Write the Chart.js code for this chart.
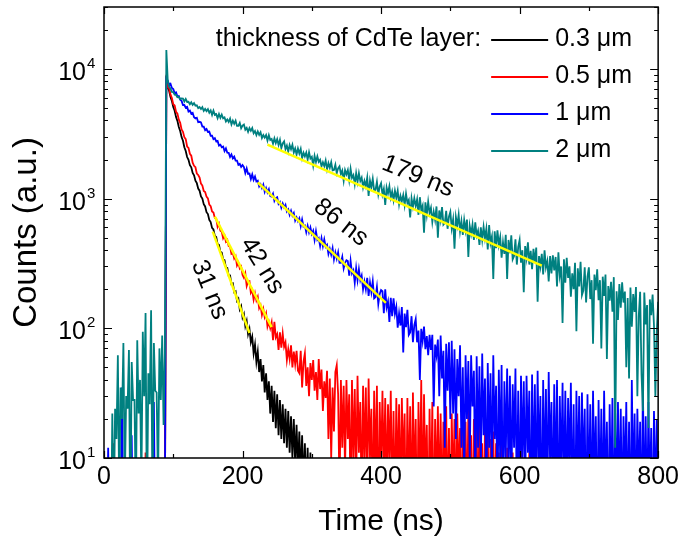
<!DOCTYPE html>
<html>
<head>
<meta charset="utf-8">
<title>CdTe PL decay</title>
<script src="https://cdn.jsdelivr.net/npm/chart.js@4.4.1/dist/chart.umd.min.js"></script>
<style>
  html, body { margin: 0; padding: 0; background: #fff; }
  #wrap { width: 683px; height: 542px; }
</style>
</head>
<body>
<div id="wrap"><canvas id="decayChart" width="683" height="542"></canvas></div>
<script>
// time channel width of the decay histograms (ns)
const STEP_NS = 2;

// 2 um layer, first channel at 10 ns
const tealStart = 10;
const tealCounts = [
  2,
  22, 3, 24, 14, 62, 5, 35, 20, 77, 6, 30, 24, 68, 3, 55, 28, 28, 4, 81, 22,
  40, 6, 94, 30, 131, 3, 45, 26, 138, 4, 77, 33, 32, 6, 70, 28, 88, 18, 68,
  14000, 8200, 7300, 7050, 6650, 6620, 6330, 6300, 6050, 6080, 5850, 5920,
  5910, 5610, 5860, 5560, 5580, 5330, 5530, 5280, 5440, 5210, 5240, 4980, 5080, 4910, 5070, 4740, 4910, 4730, 4890, 4600,
  4790, 4420, 4770, 4420, 4480, 4170, 4490, 4190, 4440, 4160, 4230, 3930, 4080, 3900, 4140, 3730, 3990, 3770, 3990, 3630,
  3630, 3830, 3480, 3650, 3720, 3400, 3510, 3270, 3500, 3330, 3500, 3190, 3320, 3090, 3290, 3100, 3250, 2930, 3090, 2950,
  3090, 2800, 3080, 2830, 2880, 2650, 2910, 2680, 2870,
  2590, 2835, 2445, 2670, 2765, 2405, 2560, 2295, 2585, 2400, 2600, 2270, 2435, 2180, 2435, 2225, 2415, 2050, 2260, 2115,
  2265, 2000, 2280, 2040, 2100, 1795, 2135, 1915, 2115, 1920, 1990, 1770, 1905, 1780, 1965, 1680, 1880, 1730, 1910, 1650,
  1660, 1820, 1570, 1710, 1775, 1545, 1645, 1375, 1660, 1540,
  1660, 1385, 1695, 1445, 1515, 1290, 1570, 1345, 1570, 1365, 1450, 1220, 1370, 1245, 1450, 1050, 1375, 1220, 1420, 1150,
  1165, 1345, 1080, 1240, 1315, 1075, 1190, 895, 1215, 1095, 1245, 1020, 1135, 970, 1150, 1010, 1150, 905, 1050, 955,
  1065, 890, 1090, 925, 975, 715, 1005, 865, 1005, 875,
  985, 750, 1025, 815, 880, 545, 935, 750, 945, 775, 850, 660, 790, 685, 870, 500, 810, 685, 860, 630,
  650, 805, 585, 725, 790, 590, 690, 410, 720, 620, 750, 560, 670, 525, 685, 570, 690, 355, 615, 535,
  630, 480, 655, 520, 565, 440, 600, 480, 605, 495,
  585, 405, 625, 455, 510, 240, 560, 415, 570, 440, 505, 350, 460, 375, 525, 240, 480, 380, 520, 340,
  360, 485, 310, 425, 480, 320, 400, 190, 430, 350, 460, 310, 395, 285, 410, 320, 420, 160, 360, 300,
  375, 260, 400, 295, 330, 230, 360, 265, 365, 280,
  355, 210, 385, 255, 300, 110, 340, 225, 350, 245, 300, 175, 265, 200, 320, 95, 290, 210, 325, 180,
  195, 295, 158, 250, 295, 168, 235, 76, 260, 197, 285, 165, 235, 70, 250, 178, 260, 58, 212, 163,
  228, 134, 248, 12, 193, 116, 219, 144, 226, 158, 192, 50, 171, 41, 206, 103, 184, 134, 208, 30,
  124, 191, 44, 23, 189, 107, 151, 17, 167, 126, 182, 105, 30, 94, 160
];

// 1 um layer, first channel at 0 ns
const blueStart = 0;
const blueCounts = [
  2, 3, 2, 12, 3, 2, 4, 2, 3, 2, 5, 2, 3, 35, 2, 4, 2, 3, 2, 5, 15, 2, 3,
  2, 4, 2, 3, 2, 6, 2, 3, 2, 4, 2, 3, 2, 27, 2, 3, 2, 4, 2, 3, 2, 5,
  8400, 8140, 7530, 7670, 7125, 6980, 6500, 6595, 6145, 6180, 5775, 5665, 5255, 5265, 5020, 5090, 4685, 4770, 4515, 4585, 4240,
  4145, 4200, 3880, 3910, 3870, 3595, 3590, 3365, 3440, 3265, 3290, 3055, 3060, 2870, 2920, 2760, 2785, 2565, 2605, 2490,
  2520, 2325, 2440, 2260, 2255, 2095, 2190, 2040, 2105, 1965, 1965, 1820, 1850, 1755, 1815,
  1750, 1575, 1710, 1550, 1560, 1415, 1535, 1395, 1480, 1355, 1375, 1240, 1290, 1205, 1280, 1125, 1205, 1115, 1180, 1045,
  1035, 1090, 960, 1010, 1025, 910, 940, 850, 915, 855, 895, 795, 825, 750, 805, 740, 775, 675, 715, 670,
  705, 615, 690, 610, 620, 550, 615, 550, 600, 535,
  565, 480, 560, 480, 495, 430, 495, 430, 485, 425, 440, 375, 410, 370, 415, 340, 385, 345, 385, 320,
  320, 355, 290, 320, 335,
  330, 255, 330, 265, 280, 225, 290, 235, 285, 235, 255, 200, 230, 200, 245, 178, 225, 190, 230, 170,
  174, 208, 154, 184, 197,
  193, 131, 200, 145, 161, 112, 172, 124, 170, 129, 146, 101, 130, 105, 146, 65, 130, 102, 139, 89,
  93, 124, 78, 106, 118, 78, 96, 40, 99, 80, 103, 69, 87, 62, 89, 68, 89, 25, 75, 62,
  82, 30, 88, 41, 67, 12, 76, 33, 78, 20,
  80, 22, 69, 14, 58, 30, 74, 12, 50, 6, 62, 20, 56, 9, 62, 25, 47, 5, 61, 12,
  51, 8, 64, 15, 41, 4, 54, 12, 45, 6, 62, 14, 36, 4, 48, 9, 52, 3, 39, 10,
  49, 7, 43, 5, 37, 12, 49, 4, 33, 3, 43, 9, 39, 5, 43, 11, 33, 2, 44, 6,
  37, 4, 47, 8, 30, 2, 40, 6, 34, 4, 46, 9, 27, 3, 37, 5, 40, 2, 30, 7,
  38, 5, 33, 4, 29, 8, 38, 3, 26, 2, 33, 6, 30, 4, 32, 7, 24, 2, 31, 4,
  26, 3, 33, 6, 21, 2, 28, 4, 24, 3, 33, 5, 19, 2, 26, 4, 29, 2, 22, 5,
  27, 4, 24, 3, 21, 6, 27, 3, 19, 2, 40, 5, 22, 3, 24, 6, 19, 2, 38, 3,
  21, 3, 27, 5, 17, 2, 23, 4, 20, 3
];

// 0.5 um layer, first channel at 0 ns
const redStart = 0;
const redCounts = [
  2, 3, 2, 4, 2, 3, 2, 13, 2, 3, 2, 4, 2, 3, 2, 2, 3, 2, 4, 2, 3, 2, 2,
  3, 2, 4, 2, 3, 2, 2, 11, 2, 3, 2, 4, 2, 3, 2, 2, 3, 2, 4, 2, 3, 4,
  8000, 7240, 7100, 6330, 5965, 5335, 5215, 4670, 4520, 4055, 3835, 3415, 3270, 2975, 2875, 2520, 2455, 2215, 2140, 1890,
  1790, 1745, 1560, 1520, 1455, 1305, 1260, 1145, 1125, 1035, 1005, 900, 875, 795, 780, 710,
  700, 605, 640, 565, 555, 495, 520, 465, 480, 430, 425, 375, 380, 345, 360, 305, 320, 290, 300, 258,
  245, 265, 212, 229, 231, 188, 197, 166, 186, 164, 175, 143, 151, 127, 141, 122, 131, 103, 112, 100,
  111, 81, 112, 85, 90, 68, 93, 71, 91, 72, 78, 57, 69, 58, 74, 50, 66, 53, 67, 47,
  45, 67, 35, 55, 64, 36, 50, 30, 54, 40, 57, 33, 46, 28, 58, 34, 48, 23, 39, 29,
  47, 14, 41, 10, 35, 16, 46, 52, 31, 5, 40, 12, 36, 8, 40, 14, 31, 4, 40, 9,
  34, 6, 43, 11, 27, 4, 36, 9, 35, 5, 41, 10, 24, 3, 33, 7, 36, 2, 27, 8,
  33, 7, 29, 5, 26, 9, 33, 4, 23, 3, 29, 6, 26, 4, 29, 8, 22, 2, 29, 5,
  25, 3, 32, 6, 20, 2, 27, 5, 40, 3, 31, 6, 18, 2, 24, 4, 27, 2, 20, 5,
  25, 4, 22, 3, 19, 6, 25, 3, 17, 2, 22, 5, 20, 3, 22, 6, 17, 2, 22, 4,
  19, 3, 24, 4, 15, 2, 20, 4, 17, 3, 23, 4, 13, 2, 18, 3, 19, 2, 14, 4,
  16, 3, 13, 2, 11, 3, 14, 2, 9, 2, 12, 3, 10, 2, 11, 3, 8, 2, 12, 2,
  30, 4, 10, 6, 8, 3, 11, 5, 7, 12, 4, 9, 3, 8, 5, 10, 3, 6, 4, 9,
  2, 6, 3, 5, 11, 2, 4, 3, 6, 2
];

// 0.3 um layer, first channel at 88 ns
const blackStart = 88;
const blackCounts = [
  4, 8000, 7250, 6780, 6070, 5660, 5080, 4760, 4250, 3970, 3560, 3320, 2980, 2790, 2490, 2330, 2090, 1990, 1810, 1740,
  1575, 1510, 1375, 1315, 1195, 1150, 1040, 1000, 905, 870, 785, 760, 685, 660, 595, 578, 515, 505, 445, 440,
  388, 383, 338, 335, 294, 292, 254, 255, 219, 222, 190, 193, 163, 169, 140, 148, 121, 129, 104, 114,
  90, 99, 78, 86, 64, 75, 55, 66, 46, 58, 39, 52, 32, 45, 28, 39, 22, 36, 19, 33,
  17, 31, 15, 28, 14, 26, 13, 24, 12, 23, 11, 21, 10, 20, 9, 18, 8, 16, 7, 15,
  6, 13, 5, 12, 4, 11, 3, 10, 3, 8, 2
];

// single exponential fits: [start ns, counts], [end ns, counts]
const fit31 = [[157, 556], [210, 92]];
const fit42 = [[160, 726], [242, 102]];
const fit86 = [[222, 1330], [407, 157]];
const fit179 = [[236, 2610], [632, 304]];

const seriesLabels = ['0.3 \u03bcm', '0.5 \u03bcm', '1 \u03bcm', '2 \u03bcm'];
const seriesColors = ['#000000', '#ff0000', '#0000ff', '#008080'];
const lifetimeLabels = ['31 ns', '42 ns', '86 ns', '179 ns'];

const xMajorTicks = [0, 200, 400, 600, 800];
const xMinorTicks = [100, 300, 500, 700];
const yMajorTicks = [10, 100, 1000, 10000];
const yTickExponents = ['1', '2', '3', '4'];

const FONT = "'Liberation Sans', Arial, sans-serif";

function toPoints(start, counts) {
  return counts.map((c, i) => ({ x: start + i * STEP_NS, y: c }));
}
function fitPoints(fit) {
  return fit.map(p => ({ x: p[0], y: p[1] }));
}

// frame with inward ticks, y labels with superscripts, legend and lifetime notes
const decorations = {
  id: 'decorations',
  afterDraw(chart) {
    const { ctx, chartArea: a, scales: { x, y } } = chart;
    ctx.save();
    ctx.strokeStyle = '#000';
    ctx.lineWidth = 1.5;
    ctx.strokeRect(a.left, a.top, a.right - a.left, a.bottom - a.top);

    ctx.lineWidth = 1.2;
    ctx.beginPath();
    const xTick = (v, len) => {
      const px = Math.round(x.getPixelForValue(v)) + 0.5;
      ctx.moveTo(px, a.bottom); ctx.lineTo(px, a.bottom - len);
      ctx.moveTo(px, a.top); ctx.lineTo(px, a.top + len);
    };
    xMajorTicks.forEach(v => xTick(v, 7));
    xMinorTicks.forEach(v => xTick(v, 4));
    const yTick = (v, len) => {
      const py = Math.round(y.getPixelForValue(v)) + 0.5;
      ctx.moveTo(a.left, py); ctx.lineTo(a.left + len, py);
      ctx.moveTo(a.right, py); ctx.lineTo(a.right - len, py);
    };
    yMajorTicks.forEach(d => {
      yTick(d, 8);
      for (let m = 2; m <= 9; m++) {
        if (d * m <= y.max) yTick(d * m, 4);
      }
    });
    ctx.stroke();

    // y tick labels
    ctx.fillStyle = '#000';
    yMajorTicks.forEach((v, i) => {
      const py = y.getPixelForValue(v);
      ctx.font = '25px ' + FONT;
      ctx.textAlign = 'right';
      ctx.textBaseline = 'alphabetic';
      ctx.fillText('10', a.left - 18, py + 11);
      ctx.font = '15px ' + FONT;
      ctx.textAlign = 'left';
      ctx.fillText(yTickExponents[i], a.left - 17, py - 1);
    });

    // legend
    ctx.font = '25px ' + FONT;
    ctx.textBaseline = 'middle';
    ctx.textAlign = 'right';
    ctx.fillText('thickness of CdTe layer:', a.right - 177, a.top + 32);
    seriesLabels.forEach((lab, i) => {
      const ry = a.top + 32 + i * 37;
      ctx.strokeStyle = seriesColors[i];
      ctx.lineWidth = 2;
      ctx.beginPath();
      ctx.moveTo(a.right - 167, ry + 1);
      ctx.lineTo(a.right - 110, ry + 1);
      ctx.stroke();
      ctx.textAlign = 'left';
      ctx.fillText(lab, a.right - 103, ry);
    });

    // lifetime notes along the fits
    const notes = [
      { t: 152, v: 198, deg: 68 },
      { t: 228, v: 304, deg: 58 },
      { t: 342, v: 653, deg: 38 },
      { t: 453, v: 1480, deg: 22 }
    ];
    notes.forEach((n, i) => {
      ctx.save();
      ctx.translate(x.getPixelForValue(n.t), y.getPixelForValue(n.v));
      ctx.rotate(n.deg * Math.PI / 180);
      ctx.textAlign = 'center';
      ctx.textBaseline = 'middle';
      ctx.fillText(lifetimeLabels[i], 0, 0);
      ctx.restore();
    });
    ctx.restore();
  }
};

const dataLine = (label, color, pts, order) => ({
  label, data: pts, borderColor: color, backgroundColor: color,
  borderWidth: 1.8, pointRadius: 0, tension: 0, order, clip: 0
});
const fitLine = (pts) => ({
  label: 'fit', data: pts, borderColor: '#ffff00', borderWidth: 2.5,
  pointRadius: 0, order: 0, clip: 0
});

new Chart(document.getElementById('decayChart'), {
  type: 'line',
  data: {
    datasets: [
      dataLine(seriesLabels[0], seriesColors[0], toPoints(blackStart, blackCounts), 4),
      dataLine(seriesLabels[1], seriesColors[1], toPoints(redStart, redCounts), 3),
      dataLine(seriesLabels[2], seriesColors[2], toPoints(blueStart, blueCounts), 2),
      dataLine(seriesLabels[3], seriesColors[3], toPoints(tealStart, tealCounts), 1),
      fitLine(fitPoints(fit31)),
      fitLine(fitPoints(fit42)),
      fitLine(fitPoints(fit86)),
      fitLine(fitPoints(fit179))
    ]
  },
  options: {
    responsive: false,
    animation: false,
    devicePixelRatio: 1,
    parsing: false,
    layout: { padding: { top: 7, right: 23, bottom: 0, left: 0 } },
    plugins: { legend: { display: false }, tooltip: { enabled: false } },
    scales: {
      x: {
        type: 'linear', min: 0, max: 800,
        afterFit(scale) { scale.height = 84; },
        afterBuildTicks(scale) { scale.ticks = xMajorTicks.map(v => ({ value: v })); },
        grid: { display: false, drawTicks: false },
        border: { display: false },
        ticks: { color: '#000', font: { family: FONT, size: 25 }, padding: 4, maxRotation: 0 },
        title: { display: true, text: 'Time (ns)', color: '#000',
                 font: { family: FONT, size: 30 }, padding: { top: 0, bottom: 2 } }
      },
      y: {
        type: 'logarithmic', min: 10, max: 30000,
        afterFit(scale) { scale.width = 104; },
        grid: { display: false, drawTicks: false },
        border: { display: false },
        ticks: { display: false },
        title: { display: true, text: 'Counts (a.u.)', color: '#000',
                 font: { family: FONT, size: 33 }, padding: { top: 7 } }
      }
    }
  },
  plugins: [decorations]
});
</script>
</body>
</html>
